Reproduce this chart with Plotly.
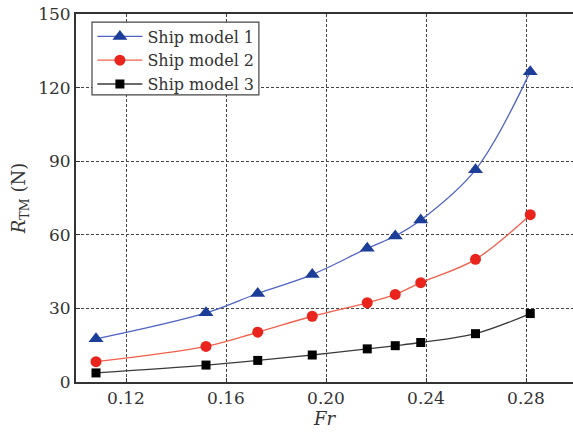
import plotly.graph_objects as go

# Froude numbers of the towing runs
froude = [0.108, 0.152, 0.1727, 0.1945, 0.2165, 0.2277, 0.2379, 0.2598, 0.2817]

# Total resistance R_TM (N) for each ship model
model1 = [17.6, 28.2, 36.1, 43.8, 54.5, 59.5, 66.0, 86.5, 126.5]
model2 = [8.3, 14.5, 20.3, 26.8, 32.3, 35.7, 40.5, 50.0, 68.2]
model3 = [3.7, 6.9, 8.8, 11.0, 13.5, 14.8, 16.1, 19.7, 27.9]

names = ["Ship model 1", "Ship model 2", "Ship model 3"]
x_ticks = [0.12, 0.16, 0.20, 0.24, 0.28]
y_ticks = [0, 30, 60, 90, 120, 150]

styles = [
    dict(line="#4f63c4", marker="#1c3d98", symbol="triangle-up", size=13),
    dict(line="#f0604c", marker="#e8241c", symbol="circle", size=11),
    dict(line="#3a3a3a", marker="#000000", symbol="square", size=9),
]

FONT = "DejaVu Serif"
TEXT = "#333333"

fig = go.Figure()
for name, ys, st in zip(names, [model1, model2, model3], styles):
    fig.add_trace(go.Scatter(
        x=froude, y=ys, name=name, mode="lines+markers",
        line=dict(color=st["line"], width=1.3, shape="spline", smoothing=1.0),
        marker=dict(color=st["marker"], symbol=st["symbol"], size=st["size"],
                    line=dict(width=0)),
    ))

# White framed box behind the legend entries
fig.add_shape(
    type="rect", xref="paper", yref="paper",
    x0=0.0322, x1=0.368, y0=0.780, y1=0.978,
    fillcolor="white", line=dict(color="#444444", width=1.2), layer="above",
)

axis_common = dict(
    showline=True, linecolor=TEXT, linewidth=1.8,
    ticks="inside", ticklen=4, tickcolor=TEXT, tickwidth=1,
    showgrid=True, gridcolor="#444444", gridwidth=1, griddash="3px,2px",
    zeroline=False,
    tickfont=dict(family=FONT, size=17, color=TEXT),
)

fig.update_layout(
    width=573, height=432,
    margin=dict(l=76, r=0, t=14, b=50),
    paper_bgcolor="white", plot_bgcolor="white",
    font=dict(family=FONT, color=TEXT),
    showlegend=True,
    legend=dict(
        x=0.033, y=0.985, xanchor="left", yanchor="top",
        bgcolor="rgba(0,0,0,0)", borderwidth=0,
        font=dict(family=FONT, size=16, color=TEXT),
        tracegroupgap=0, itemsizing="trace", itemwidth=45,
    ),
    xaxis=dict(
        axis_common, range=[0.10, 0.2988], tickvals=x_ticks,
        ticktext=[f"{v:.2f}" for v in x_ticks], mirror=True,
        title=dict(text="<i>Fr</i>", standoff=2,
                   font=dict(family=FONT, size=18, color=TEXT)),
    ),
    yaxis=dict(
        axis_common, range=[0, 150], tickvals=y_ticks,
        title=dict(text="<i>R</i><sub>TM</sub> (N)", standoff=8,
                   font=dict(family=FONT, size=18, color=TEXT)),
    ),
)

fig.write_html("out.html")
